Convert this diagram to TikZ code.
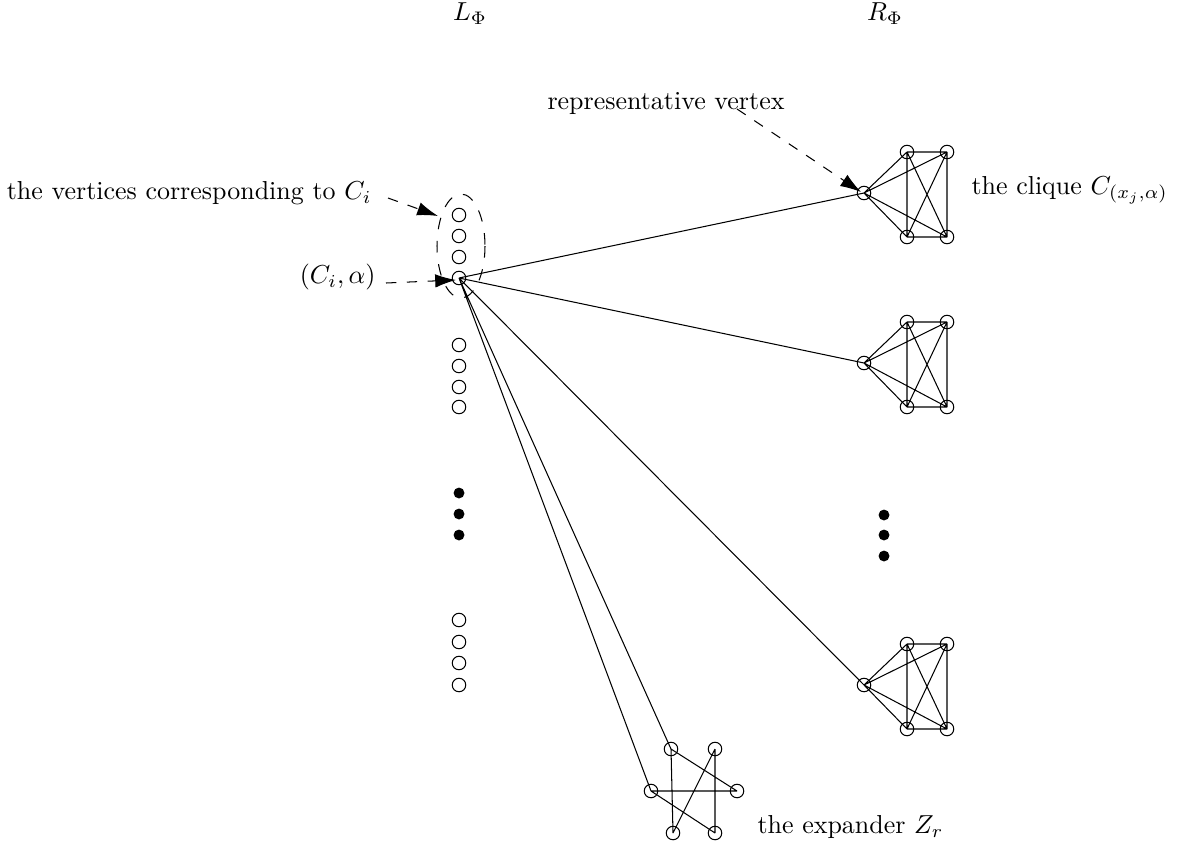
\documentclass[tikz,border=0pt]{standalone}
\usetikzlibrary{arrows.meta}
\begin{document}
\begin{tikzpicture}[x=0.385pt,y=-0.385pt,
  vert/.style={circle,draw,minimum size=5.2pt,inner sep=0pt},
  bigdot/.style={circle,fill=black,minimum size=4.2pt,inner sep=0pt},
  edge/.style={line width=0.4pt},
  pointer/.style={dash pattern=on 4pt off 4pt,-{Latex[length=8pt,width=5.2pt]}},
  lbl/.style={inner sep=0pt}]
\useasboundingbox (0,0) rectangle (1179,846);
% headings
\node[lbl] (L) at (470,14) {$L_\Phi$};
\node[lbl] (R) at (885,14) {$R_\Phi$};
% left column
\node[vert] (l1) at (459,215) {};
\node[vert] (l2) at (459,236) {};
\node[vert] (l3) at (459,257) {};
\node[vert] (ca) at (459,278) {};
\node[vert] (l5) at (459,345) {};
\node[vert] (l6) at (459,366) {};
\node[vert] (l7) at (459,387) {};
\node[vert] (l8) at (459,407) {};
\node[bigdot] (ld1) at (459,493) {};
\node[bigdot] (ld2) at (459,514) {};
\node[bigdot] (ld3) at (459,535) {};
\node[vert] (b1) at (459,620) {};
\node[vert] (b2) at (459,642) {};
\node[vert] (b3) at (459,663) {};
\node[vert] (b4) at (459,685) {};
% dashed ellipse
\draw[dash pattern=on 4.5pt off 4.5pt] (461,246) ellipse [x radius=24, y radius=52];
% right dots
\node[bigdot] (rd1) at (884,515) {};
\node[bigdot] (rd2) at (884,535) {};
\node[bigdot] (rd3) at (884,556) {};
% cliques
\foreach \n/\yy in {1/193,2/363,3/685}{
  \pgfmathsetmacro{\yt}{\yy-41}
  \pgfmathsetmacro{\yb}{\yy+44}
  \node[vert] (r\n) at (864,\yy) {};
  \node[vert] (tl\n) at (907,\yt) {};
  \node[vert] (tr\n) at (947,\yt) {};
  \node[vert] (bl\n) at (907,\yb) {};
  \node[vert] (br\n) at (947,\yb) {};
  \draw[edge] (r\n.center) -- (tl\n.center) (r\n.center) -- (tr\n.center)
    (r\n.center) -- (bl\n.center) (r\n.center) -- (br\n.center)
    (tl\n.center) -- (tr\n.center) (bl\n.center) -- (br\n.center)
    (tl\n.center) -- (bl\n.center) (tr\n.center) -- (br\n.center)
    (tl\n.center) -- (br\n.center) (tr\n.center) -- (bl\n.center);
}
% expander
\node[vert] (ea) at (671,749) {};
\node[vert] (eb) at (715,749) {};
\node[vert] (ec) at (651,791) {};
\node[vert] (ed) at (737,791) {};
\node[vert] (ee) at (673,833) {};
\node[vert] (ef) at (715,833) {};
\draw[edge] (ea.center) -- (ee.center) (ea.center) -- (ed.center)
  (eb.center) -- (ee.center) (eb.center) -- (ef.center)
  (ec.center) -- (ed.center) (ec.center) -- (ef.center);
% edges from (C_i,alpha)
\draw[edge] (ca.center) -- (r1.center) (ca.center) -- (r2.center)
  (ca.center) -- (r3.center) (ca.center) -- (ea.center)
  (ca.center) -- (ec.center);
% labels
\node[lbl,anchor=east] (tv) at (372,193) {the vertices corresponding to $C_i$};
\node[lbl,anchor=east] (tc) at (376,277) {$(C_i,\alpha)$};
\node[lbl] (rv) at (666,103) {representative vertex};
\node[lbl,anchor=west] (cl) at (971,190) {the clique $C_{(x_j,\alpha)}$};
\node[lbl,anchor=west] (ex) at (757,827) {the expander $Z_r$};
\coordinate (p1) at (388,198);
\coordinate (p1e) at (438,216);
\coordinate (p2) at (386,283);
\coordinate (p2e) at (456,280);
\coordinate (p3) at (737,109);
\coordinate (p3e) at (861,192);
\draw[pointer] (p1) -- (p1e);
\draw[pointer] (p2) -- (p2e);
\draw[pointer] (p3) -- (p3e);
\end{tikzpicture}
\end{document}
